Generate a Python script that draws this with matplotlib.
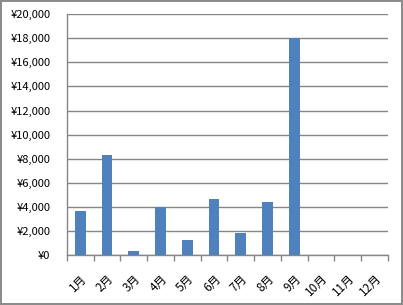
import matplotlib
matplotlib.use("Agg")
import matplotlib.pyplot as plt
import numpy as np

plt.rcParams['font.family'] = ['Noto Sans CJK JP', 'DejaVu Sans']

months = ['1月', '2月', '3月', '4月', '5月', '6月', '7月', '8月', '9月', '10月', '11月', '12月']
values = [3700, 8280, 380, 4000, 1300, 4680, 1850, 4420, 18050, 0, 0, 0]
yticks = np.arange(0, 20001, 2000)

fig = plt.figure(figsize=(4.03, 3.05), dpi=100)
fig.patch.set_edgecolor('#8c8c8c')
fig.patch.set_linewidth(1.5)
ax = fig.add_axes([0.1663, 0.163, 0.7957, 0.791])

x = np.arange(len(months))
ax.bar(x, values, width=0.4, color='#4f81bd', zorder=3)

ax.set_xlim(-0.5, len(months) - 0.5)
ax.set_ylim(0, 20000)
ax.set_yticks(yticks)
ax.set_yticklabels(['¥{:,}'.format(v) for v in yticks], fontsize=8)
ax.yaxis.grid(True, color='#868686', linewidth=1, zorder=0)
ax.tick_params(axis='y', length=0, pad=12)

ax.set_xticks(x)
ax.set_xticklabels(months, fontsize=8.5, rotation=45, ha='right', va='top', rotation_mode='anchor')
ax.set_xticks(np.arange(-0.5, len(months)), minor=True)
ax.tick_params(axis='x', which='major', length=0, pad=12)
ax.tick_params(axis='x', which='minor', length=4, color='#868686', width=1)

for s in ['top', 'right']:
    ax.spines[s].set_visible(False)
for s in ['left', 'bottom']:
    ax.spines[s].set_color('#868686')
    ax.spines[s].set_linewidth(1)

fig.savefig('out.png', dpi=100)
